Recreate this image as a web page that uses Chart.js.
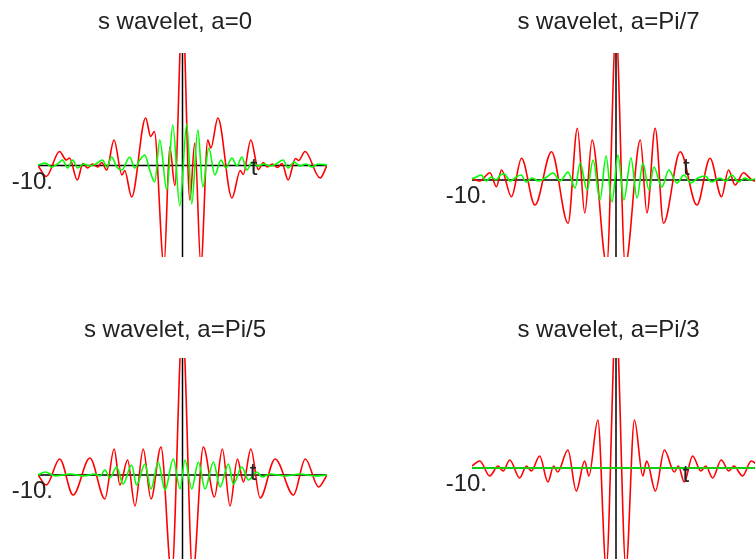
<!DOCTYPE html>
<html>
<head>
<meta charset="utf-8">
<script src="https://cdn.jsdelivr.net/npm/chart.js@4.4.1/dist/chart.umd.min.js"></script>
<style>
  html, body { margin: 0; padding: 0; background: #fff; overflow: hidden; }
  #wrap { position: relative; width: 755px; height: 559px; overflow: hidden; background: #fff; }
  #wrap canvas { position: absolute; }
</style>
</head>
<body>
<div id="wrap">
  <canvas id="c0" width="378" height="280" style="left:0;top:0"></canvas>
  <canvas id="c1" width="390" height="280" style="left:378px;top:0"></canvas>
  <canvas id="c2" width="378" height="290" style="left:0;top:280px"></canvas>
  <canvas id="c3" width="390" height="290" style="left:378px;top:280px"></canvas>
</div>
<script>
// panel titles and axis texts
const titles = ['s wavelet, a=0', 's wavelet, a=Pi/7', 's wavelet, a=Pi/5', 's wavelet, a=Pi/3'];
const tickLabel = '-10.';
const axisLabel = 't';
const tRange = [-10, 10];

// a = 0 : real part (red) and imaginary part (green), [t, value]
const reA0 = [[-10,0],[-9.43,-0.11],[-8.51,0.14],[-8.04,0.055],[-7.82,0.075],[-7.28,-0.145],
  [-6.89,0.02],[-6.57,-0.025],[-6.22,0.015],[-5.87,-0.015],[-5.6,0.03],[-5.25,-0.045],
  [-4.74,0.255],[-4.19,-0.095],[-4,-0.05],[-3.52,-0.315],[-2.55,0.475],[-2.2,0.29],
  [-1.95,0.34],[-1.28,-1],[-0.88,0.185],[-0.53,-0.2],[0,1.6],[0.51,-0.345],[0.85,0.225],
  [1.27,-1],[1.75,0.255],[1.96,0.175],[2.45,0.475],[3.42,-0.325],[4,-0.05],[4.2,-0.09],
  [4.73,0.255],[5.25,-0.04],[5.6,0.03],[5.87,-0.015],[6.22,0.015],[6.57,-0.02],[6.89,0.02],
  [7.31,-0.145],[7.82,0.07],[8.04,0.05],[8.48,0.14],[9.52,-0.125],[10,0]];
const imA0 = [[-10,0.005],[-9.48,0.025],[-9.06,-0.015],[-8.65,0.015],[-8.3,0.055],[-7.95,-0.025],
  [-7.61,0.055],[-7.26,-0.025],[-6.84,0.015],[-6.43,-0.005],[-6.01,0.015],[-5.53,0.055],
  [-5.25,-0.015],[-4.9,0.085],[-4.55,-0.015],[-4.2,-0.045],[-3.65,0.085],[-3.31,-0.025],
  [-2.96,0.055],[-2.61,0.105],[-2.27,-0.045],[-1.92,-0.165],[-1.57,0.255],[-1.09,-0.245],
  [-0.67,0.405],[-0.19,-0.405],[0.3,0.415],[0.64,-0.385],[1.06,0.355],[1.41,-0.215],
  [1.82,0.175],[2.24,-0.095],[2.66,0.055],[3,-0.025],[3.42,0.075],[3.77,-0.005],[4.11,0.085],
  [4.46,-0.045],[4.81,0.035],[5.22,-0.005],[5.64,0.015],[6.05,-0.005],[6.47,0.015],
  [6.96,0.055],[7.3,-0.025],[7.72,0.035],[8.13,-0.005],[8.55,0.015],[8.97,-0.015],
  [9.38,0.015],[10,0.005]];

// a = Pi/7
const reA7 = [[-10,0.017],[-9.46,-0.01],[-8.75,0.073],[-8.3,-0.067],[-7.95,0.1],[-7.26,-0.167],
  [-6.56,0.217],[-5.63,-0.25],[-4.48,0.283],[-3.33,-0.433],[-2.68,0.517],[-2.17,-0.33],
  [-1.66,0.4],[-0.64,-0.85],[0,1.5],[0.64,-0.85],[1.69,0.4],[2.15,-0.33],[2.72,0.517],
  [3.3,-0.433],[4.46,0.283],[5.62,-0.25],[6.53,0.217],[7.33,-0.167],[7.81,0.1],[8.27,-0.05],
  [8.85,0.073],[9.31,0.017],[9.6,-0.01],[10,0]];
const imA7 = [[-10,0.01],[-9.7,0.03],[-9.36,0.05],[-9.01,-0.01],[-8.66,0.03],[-8.32,0],
  [-8.04,0.05],[-7.76,0.06],[-7.35,-0.01],[-6.93,0.03],[-6.58,0.05],[-6.24,-0.02],
  [-5.82,0.02],[-5.41,-0.01],[-4.92,0.02],[-4.37,0.07],[-3.88,-0.01],[-3.33,0.08],
  [-2.84,-0.08],[-2.49,0.17],[-2.01,-0.1],[-1.59,0.2],[-1.11,-0.2],[-0.69,0.24],[-0.28,-0.22],
  [0.14,0.25],[0.55,-0.2],[1.04,0.22],[1.46,-0.18],[1.87,0.17],[2.29,-0.1],[2.63,0.13],
  [3.19,-0.07],[3.67,0.1],[4.23,-0.03],[4.71,0.05],[5.2,-0.03],[5.68,0.02],[6.17,0.04],
  [6.65,-0.02],[7.21,0.02],[7.62,-0.01],[8.04,0.05],[8.52,-0.02],[8.94,0.02],[9.29,0],
  [9.63,0.01],[10,0]];

// a = Pi/5
const reA5 = [[-10,0],[-9.42,-0.1],[-8.5,0.16],[-7.57,-0.2],[-6.41,0.17],[-5.37,-0.24],
  [-4.73,0.26],[-4.33,-0.1],[-3.8,0.15],[-3.29,-0.31],[-2.72,0.26],[-2.18,-0.24],[-1.49,0.28],
  [-0.75,-1],[0,1.5],[0.71,-1],[1.44,0.28],[2.21,-0.22],[2.76,0.26],[3.29,-0.31],[3.8,0.16],
  [4.22,-0.07],[4.73,0.26],[5.37,-0.23],[6.41,0.16],[7.68,-0.2],[8.5,0.16],[9.42,-0.12],[10,0]];
const imA5 = [[-10,0],[-9.5,0.03],[-8.8,-0.01],[-7.8,0.01],[-6.8,-0.01],[-6.1,0.01],[-5.7,-0.01],
  [-5.37,0.05],[-5.03,-0.03],[-4.56,0.08],[-4.11,-0.09],[-3.52,0.1],[-3.18,-0.1],[-2.6,0.11],
  [-2.18,-0.14],[-1.68,0.13],[-1.21,-0.15],[-0.64,0.16],[-0.17,-0.14],[0.17,0.15],[0.64,-0.14],
  [1.1,0.13],[1.56,-0.14],[2.14,0.13],[2.6,-0.12],[3.18,0.11],[3.52,-0.09],[4.11,0.08],
  [4.56,-0.05],[5.15,0.03],[5.51,-0.02],[6.07,0.01],[7.1,-0.01],[8.15,0.01],[9.2,-0.01],[10,0]];

// a = Pi/3
const reA3 = [[-10,0.02],[-9.46,0.07],[-8.77,-0.08],[-8.19,0.02],[-7.84,-0.03],[-7.38,0.08],
  [-6.69,-0.1],[-6.22,0.02],[-5.88,-0.03],[-5.3,0.12],[-4.73,-0.14],[-4.33,0.02],[-4.05,-0.04],
  [-3.34,0.18],[-2.76,-0.23],[-2.18,0.07],[-1.88,-0.08],[-1.26,0.48],[-0.68,-1],[0,1.5],
  [0.69,-1],[1.28,0.48],[1.86,-0.08],[2.13,0.07],[2.74,-0.23],[3.36,0.18],[4.05,-0.04],
  [4.33,0.02],[4.74,-0.14],[5.32,0.12],[5.89,-0.03],[6.24,0.02],[6.71,-0.1],[7.31,0.08],
  [7.83,-0.03],[8.18,0.02],[8.79,-0.08],[9.39,0.07],[10,0]];
const imA3 = [[-10,0],[-5,0],[0,0],[5,0],[10,0]];

// where the "t" label sits, [t, value]
const tLabelAt = [[4.95,-0.095],[4.89,0.05],[4.88,-0.05],[4.85,-0.137]];

const series = [[reA0, imA0], [reA7, imA7], [reA5, imA5], [reA3, imA3]];

// layout of each panel inside its canvas
const panels = [
  { pad: { left: 38, right: 51, top: 53, bottom: 23 }, yMin: -0.915, yMax: 1.125, titleY: 29 },
  { pad: { left: 94, right: 8, top: 53, bottom: 23 }, yMin: -0.77, yMax: 1.27, titleY: 29 },
  { pad: { left: 38, right: 51, top: 78, bottom: 3 }, yMin: -0.92, yMax: 1.17, titleY: 57 },
  { pad: { left: 94, right: 8, top: 78, bottom: 3 }, yMin: -0.99, yMax: 1.10, titleY: 57 }
];

const FONT = '24px "Liberation Sans", Arial, sans-serif';

const textPlugin = {
  id: 'wavelabels',
  afterDraw(chart, args, opts) {
    const ctx = chart.ctx;
    const x = chart.scales.x, y = chart.scales.y;
    const area = chart.chartArea;
    ctx.save();
    ctx.fillStyle = '#222';
    ctx.font = FONT;
    ctx.textBaseline = 'alphabetic';
    // title
    ctx.textAlign = 'center';
    ctx.fillText(opts.title, (area.left + area.right) / 2 - 7.5, opts.titleY);
    // tick label at the left end of the t axis
    ctx.textAlign = 'right';
    ctx.fillText(tickLabel, x.getPixelForValue(tRange[0]) + 15, y.getPixelForValue(0) + 23);
    // axis label
    ctx.textAlign = 'center';
    ctx.fillText(axisLabel, x.getPixelForValue(opts.tAt[0]), y.getPixelForValue(opts.tAt[1]));
    ctx.restore();
  }
};

function toXY(list) {
  return list.map(p => ({ x: p[0], y: p[1] }));
}

panels.forEach((p, i) => {
  const re = series[i][0], im = series[i][1];
  const line = { showLine: true, pointRadius: 0, fill: false, cubicInterpolationMode: 'monotone' };
  new Chart(document.getElementById('c' + i), {
    type: 'scatter',
    data: {
      datasets: [
        Object.assign({ data: toXY(im), borderColor: '#00ff00', borderWidth: 1.6 }, line),
        Object.assign({ data: toXY(re), borderColor: '#ff0000', borderWidth: 1.6 }, line),
        Object.assign({ data: [{ x: tRange[0], y: 0 }, { x: tRange[1], y: 0 }], borderColor: '#000', borderWidth: 1.5 }, line),
        Object.assign({ data: [{ x: 0, y: p.yMin }, { x: 0, y: p.yMax }], borderColor: '#000', borderWidth: 1.5 }, line)
      ]
    },
    options: {
      responsive: false,
      animation: false,
      events: [],
      layout: { padding: p.pad },
      scales: {
        x: { type: 'linear', display: false, min: tRange[0], max: tRange[1] },
        y: { type: 'linear', display: false, min: p.yMin, max: p.yMax }
      },
      plugins: {
        legend: { display: false },
        tooltip: { enabled: false },
        wavelabels: { title: titles[i], titleY: p.titleY, tAt: tLabelAt[i] }
      }
    },
    plugins: [textPlugin]
  });
});
</script>
</body>
</html>
